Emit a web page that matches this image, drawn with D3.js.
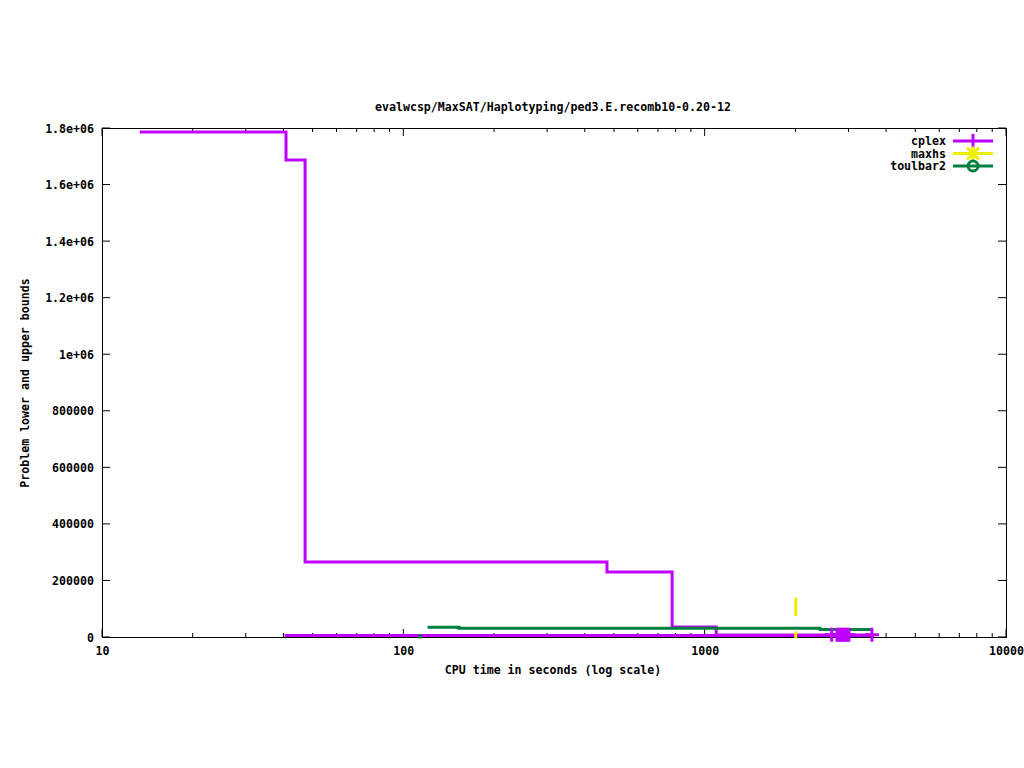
<!DOCTYPE html>
<html>
<head>
<meta charset="utf-8">
<script src="https://cdn.jsdelivr.net/npm/d3@7"></script>
<style>
  body { margin: 0; background: #fff; }
  text { font-family: "DejaVu Sans Mono", monospace; font-size: 11.6px; font-weight: bold; fill: #000; }
</style>
</head>
<body>
<svg id="chart" width="1024" height="768"></svg>
<script>
// series data: [cpu seconds, bound]
var cplexUB = [[13.5,1786000],[40.8,1687000],[47.2,265000],[474,230000],[780,35000],[1092,7000],[3600,7000]];
var cplexLB = [[40.8,5000],[3600,5000]];
var cplexPts = [[2640,8000],[2750,8000],[2790,8000],[2830,8000],[2870,8000],[2915,8000],[2960,8000],[3010,8000],[3590,8000]];
var maxhsUB = [[2005,134000],[2005,79000]];
var maxhsLB = [[2005,14000],[2005,0]];
var toulbarUB = [[121.7,34300],[153,30600],[2415,26500],[3540,26500]];
var toulbarLB = [[113.6,0],[113.6,5000]];

var xTicks = [10,100,1000,10000];
var yTicks = [0,200000,400000,600000,800000,1000000,1200000,1400000,1600000,1800000];
var legendNames = ["cplex","maxhs","toulbar2"];
var colors = {cplex:"#c000ff", maxhs:"#eeee00", toulbar2:"#008040"};

var title = "evalwcsp/MaxSAT/Haplotyping/ped3.E.recomb10-0.20-12";

var svg = d3.select("#chart");
// plot box (window.top is read-only, so own names)
var pL = 102, pR = 1006, pT = 128, pB = 637;

var x = d3.scaleLog().domain([10,10000]).range([pL,pR]);
var y = d3.scaleLinear().domain([0,1800000]).range([pB,pT]);

svg.append("rect").attr("width",1024).attr("height",768).attr("fill","#fff");

svg.append("clipPath").attr("id","clip")
  .append("rect").attr("x",pL).attr("y",pT-2).attr("width",pR-pL).attr("height",pB-pT+4);

// gnuplot style labels for y
function yfmt(v) {
  if (v >= 1000000) {
    var m = v/1000000;
    return (m === Math.round(m) ? m : m.toFixed(1)) + "e+06";
  }
  return "" + v;
}

// axes: ticks inward on all four sides
var axisB = d3.axisBottom(x).tickValues(xTicks).tickSize(0).tickFormat(d3.format("d"));
var gB = svg.append("g").attr("transform","translate(0,"+pB+")").call(axisB);
gB.select(".domain").remove();
gB.attr("font-size",null).attr("font-family",null);
gB.selectAll("text").attr("dy",null).attr("y",18);

var axisL = d3.axisLeft(y).tickValues(yTicks).tickSize(0).tickFormat(yfmt);
var gL = svg.append("g").attr("transform","translate("+pL+",0)").call(axisL);
gL.select(".domain").remove();
gL.attr("font-size",null).attr("font-family",null);
gL.selectAll("text").attr("x",-8).attr("dy","0.35em");

var ticks = svg.append("g").attr("stroke","#000").attr("stroke-width",1);
// minor ticks on log axis
var minor = [];
for (var dec = 10; dec < 10000; dec *= 10) {
  for (var k = 2; k < 10; k++) minor.push(dec*k);
}
xTicks.forEach(function(t) {
  ticks.append("line").attr("x1",x(t)).attr("x2",x(t)).attr("y1",pB).attr("y2",pB-8);
  ticks.append("line").attr("x1",x(t)).attr("x2",x(t)).attr("y1",pT).attr("y2",pT+8);
});
minor.forEach(function(t) {
  ticks.append("line").attr("x1",x(t)).attr("x2",x(t)).attr("y1",pB).attr("y2",pB-4);
  ticks.append("line").attr("x1",x(t)).attr("x2",x(t)).attr("y1",pT).attr("y2",pT+4);
});
yTicks.forEach(function(t) {
  ticks.append("line").attr("x1",pL).attr("x2",pL+8).attr("y1",y(t)).attr("y2",y(t));
  ticks.append("line").attr("x1",pR).attr("x2",pR-8).attr("y1",y(t)).attr("y2",y(t));
});

svg.append("rect").attr("x",pL+0.5).attr("y",pT+0.5).attr("width",pR-pL).attr("height",pB-pT)
  .attr("fill","none").attr("stroke","#000").attr("stroke-width",1);

// step lines
var step = d3.line().x(function(d){ return x(d[0]); }).y(function(d){ return y(d[1]); }).curve(d3.curveStepAfter);
var plain = d3.line().x(function(d){ return x(d[0]); }).y(function(d){ return y(d[1]); });

var plot = svg.append("g").attr("clip-path","url(#clip)");

function drawLine(data, col, gen) {
  plot.append("path").datum(data).attr("d",gen)
    .attr("fill","none").attr("stroke",col).attr("stroke-width",3)
    .attr("stroke-linejoin","miter").attr("stroke-linecap","square");
}

drawLine(cplexLB, colors.cplex, step);
drawLine(cplexUB, colors.cplex, step);
drawLine(maxhsUB, colors.maxhs, plain);
drawLine(maxhsLB, colors.maxhs, plain);
drawLine(toulbarLB, colors.toulbar2, plain);
drawLine(toulbarUB, colors.toulbar2, step);

// cplex points are not clipped (gnuplot draws them over the border)
svg.selectAll(".cpt").data(cplexPts).enter().append("path")
  .attr("class","cpt")
  .attr("transform",function(d){ return "translate("+x(d[0])+","+y(d[1])+")"; })
  .attr("d","M-7,0H7M0,-7V7")
  .attr("stroke",colors.cplex).attr("stroke-width",3).attr("fill","none");

// legend
var leg = svg.append("g");
legendNames.forEach(function(n, i) {
  var ly = 141 + i*12.5;
  leg.append("text").attr("x",946).attr("y",ly).attr("dy","0.35em").attr("text-anchor","end").text(n);
  leg.append("line").attr("x1",953).attr("x2",993).attr("y1",ly).attr("y2",ly)
    .attr("stroke",colors[n]).attr("stroke-width",3);
  var m = leg.append("g").attr("transform","translate(973,"+ly+")");
  if (n === "cplex") {
    m.append("path").attr("d","M0,-7V7").attr("stroke",colors[n]).attr("stroke-width",3);
  } else if (n === "maxhs") {
    m.append("path").attr("d","M0,-7V7M-6,-6L6,6M-6,6L6,-6").attr("stroke",colors[n]).attr("stroke-width",3);
  } else {
    m.append("circle").attr("r",5).attr("fill","none").attr("stroke",colors[n]).attr("stroke-width",3);
  }
});

// titles
svg.append("text").attr("x",553).attr("y",107).attr("dy","0.35em").attr("text-anchor","middle").text(title);
svg.append("text").attr("x",553).attr("y",670).attr("dy","0.35em").attr("text-anchor","middle").text("CPU time in seconds (log scale)");
svg.append("text").attr("transform","translate(25,383) rotate(-90)").attr("dy","0.35em")
  .attr("text-anchor","middle").text("Problem lower and upper bounds");
</script>
</body>
</html>
